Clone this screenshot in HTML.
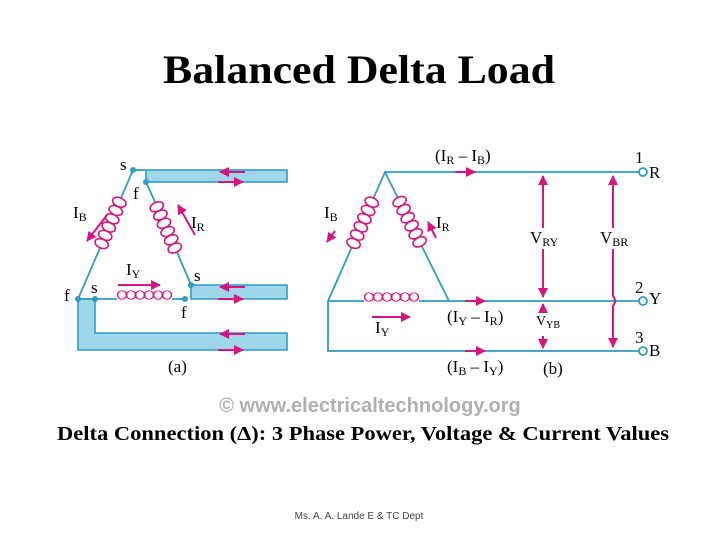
<!DOCTYPE html>
<html><head><meta charset="utf-8"><style>
html,body{margin:0;padding:0;background:#fff;}
svg{display:block;}
</style></head><body>
<svg width="720" height="540" viewBox="0 0 720 540" xmlns="http://www.w3.org/2000/svg">
<defs>
<marker id="ah" viewBox="0 0 10 10" refX="9" refY="5" markerWidth="5" markerHeight="5" orient="auto"><path d="M0,0 L10,5 L0,10 z" fill="#d6157f"/></marker>
<g id="coil" fill="none" stroke="#d6157f" stroke-width="1.6">
  <ellipse cx="5" cy="0" rx="4.5" ry="7"/>
  <ellipse cx="14" cy="0" rx="4.5" ry="7"/>
  <ellipse cx="23" cy="0" rx="4.5" ry="7"/>
  <ellipse cx="32" cy="0" rx="4.5" ry="7"/>
  <ellipse cx="41" cy="0" rx="4.5" ry="7"/>
  <ellipse cx="50" cy="0" rx="4.5" ry="7"/>
</g>
</defs>
<text x="359" y="83" text-anchor="middle" font-family="Liberation Serif, serif" font-weight="bold" font-size="40" textLength="392" lengthAdjust="spacingAndGlyphs">Balanced Delta Load</text>

<g font-family="Liberation Serif, serif" font-size="17">
<g fill="#9fd6ea" stroke="#2f9cc4" stroke-width="1.6">
<rect x="146" y="170" width="141" height="12"/>
<path d="M191,285 H287 V299 H191 Z"/>
<path d="M78,299 H95 V333 H287 V350 H78 Z"/>
</g>
<g stroke="#2f9cc4" stroke-width="1.8" fill="none">
<line x1="133" y1="170" x2="146" y2="170"/>
<line x1="133" y1="170" x2="121" y2="198"/>
<line x1="100" y1="248" x2="78" y2="299"/>
<line x1="146" y1="182" x2="155" y2="202"/>
<line x1="177" y1="252" x2="191" y2="285"/>
<line x1="78" y1="299" x2="117" y2="299"/>
<line x1="172" y1="299" x2="185" y2="299"/>
</g>
<g fill="#2f9cc4"><circle cx="133" cy="170" r="3"/><circle cx="146" cy="182" r="3"/><circle cx="191" cy="285" r="3"/><circle cx="185" cy="299" r="3"/><circle cx="95" cy="299" r="3"/><circle cx="78" cy="299" r="3"/></g>
<use href="#coil" transform="translate(121.2,197.6) rotate(113)"/>
<use href="#coil" transform="translate(154.8,202.2) rotate(66.4)"/>
<use href="#coil" transform="translate(117,295) scale(1,0.6)"/>
<g stroke="#d6157f" stroke-width="2" marker-end="url(#ah)">
<line x1="245" y1="172" x2="220" y2="172"/><line x1="218" y1="182" x2="243" y2="182"/>
<line x1="245" y1="287" x2="220" y2="287"/><line x1="218" y1="299" x2="243" y2="299"/>
<line x1="245" y1="334" x2="220" y2="334"/><line x1="218" y1="350" x2="243" y2="350"/>
<line x1="107" y1="215" x2="87" y2="241"/>
<line x1="195" y1="235" x2="178" y2="205"/>
<line x1="118" y1="285" x2="160" y2="285"/>
</g>
<text x="120" y="170">s</text><text x="133" y="199">f</text>
<text x="73" y="218">I<tspan font-size="12" dy="3">B</tspan></text>
<text x="191" y="228">I<tspan font-size="12" dy="3">R</tspan></text>
<text x="126" y="275">I<tspan font-size="12" dy="3">Y</tspan></text>
<text x="194" y="281">s</text><text x="181" y="318">f</text>
<text x="64" y="301">f</text><text x="91" y="293">s</text>
<text x="168" y="372">(a)</text>

<g stroke="#2f9cc4" stroke-width="1.8" fill="none">
<polyline points="639,172 385,172 373.7,197.6"/>
<polyline points="351.5,247.9 328,301 328,351 639,351"/>
<line x1="328" y1="301" x2="364" y2="301"/>
<line x1="419" y1="301" x2="639" y2="301"/>
<line x1="385" y1="172" x2="397.4" y2="197.1"/>
<line x1="421.9" y1="246.4" x2="449" y2="301"/>
<circle cx="643" cy="172" r="4" fill="#fff"/><circle cx="643" cy="301" r="4" fill="#fff"/><circle cx="643" cy="351" r="4" fill="#fff"/>
</g>
<use href="#coil" transform="translate(373.7,197.6) rotate(113.8)"/>
<use href="#coil" transform="translate(397.4,197.1) rotate(63.6)"/>
<use href="#coil" transform="translate(364,297) scale(1,0.6)"/>
<g stroke="#d6157f" stroke-width="2" fill="none">
<line x1="543" y1="228" x2="543" y2="176" marker-end="url(#ah)"/>
<line x1="543" y1="249" x2="543" y2="297" marker-end="url(#ah)"/>
<line x1="543" y1="312" x2="543" y2="304" marker-end="url(#ah)"/>
<line x1="543" y1="336" x2="543" y2="348" marker-end="url(#ah)"/>
<line x1="613" y1="228" x2="613" y2="176" marker-end="url(#ah)"/>
<path d="M613,249 V296 Q617,301 613,306 V347" marker-end="url(#ah)"/>
<line x1="455" y1="172" x2="475" y2="172" marker-end="url(#ah)"/>
<line x1="465" y1="301" x2="485" y2="301" marker-end="url(#ah)"/>
<line x1="465" y1="351" x2="485" y2="351" marker-end="url(#ah)"/>
<line x1="335" y1="231" x2="327" y2="242" marker-end="url(#ah)"/>
<line x1="436" y1="238" x2="428" y2="222" marker-end="url(#ah)"/>
<line x1="372" y1="317" x2="410" y2="317" marker-end="url(#ah)"/>
</g>
<text x="435" y="161">(I<tspan font-size="12" dy="3">R</tspan><tspan dy="-3"> – I</tspan><tspan font-size="12" dy="3">B</tspan><tspan dy="-3">)</tspan></text>
<text x="324" y="218">I<tspan font-size="12" dy="3">B</tspan></text>
<text x="436" y="228">I<tspan font-size="12" dy="3">R</tspan></text>
<text x="375" y="333">I<tspan font-size="12" dy="3">Y</tspan></text>
<text x="447" y="322">(I<tspan font-size="12" dy="3">Y</tspan><tspan dy="-3"> – I</tspan><tspan font-size="12" dy="3">R</tspan><tspan dy="-3">)</tspan></text>
<text x="447" y="372">(I<tspan font-size="12" dy="3">B</tspan><tspan dy="-3"> – I</tspan><tspan font-size="12" dy="3">Y</tspan><tspan dy="-3">)</tspan></text>
<text x="530" y="243">V<tspan font-size="12" dy="3">RY</tspan></text>
<text x="600" y="243">V<tspan font-size="12" dy="3">BR</tspan></text>
<text x="536" y="325" font-size="14">V<tspan font-size="10" dy="3">YB</tspan></text>
<text x="543" y="374">(b)</text>
<text x="635" y="163">1</text><text x="649" y="178">R</text>
<text x="635" y="293">2</text><text x="649" y="304">Y</text>
<text x="635" y="343">3</text><text x="649" y="356">B</text>
</g>

<text x="370" y="412" text-anchor="middle" font-family="Liberation Sans, sans-serif" font-weight="bold" font-size="20" fill="#b0b0b0">© www.electricaltechnology.org</text>
<text x="363" y="440" text-anchor="middle" font-family="Liberation Serif, serif" font-weight="bold" font-size="20" textLength="612" lengthAdjust="spacingAndGlyphs">Delta Connection (Δ): 3 Phase Power, Voltage &amp; Current Values</text>
<text x="359" y="519" text-anchor="middle" font-family="Liberation Sans, sans-serif" font-size="10" fill="#444">Ms. A. A. Lande E &amp; TC Dept</text>
</svg>
</body></html>
